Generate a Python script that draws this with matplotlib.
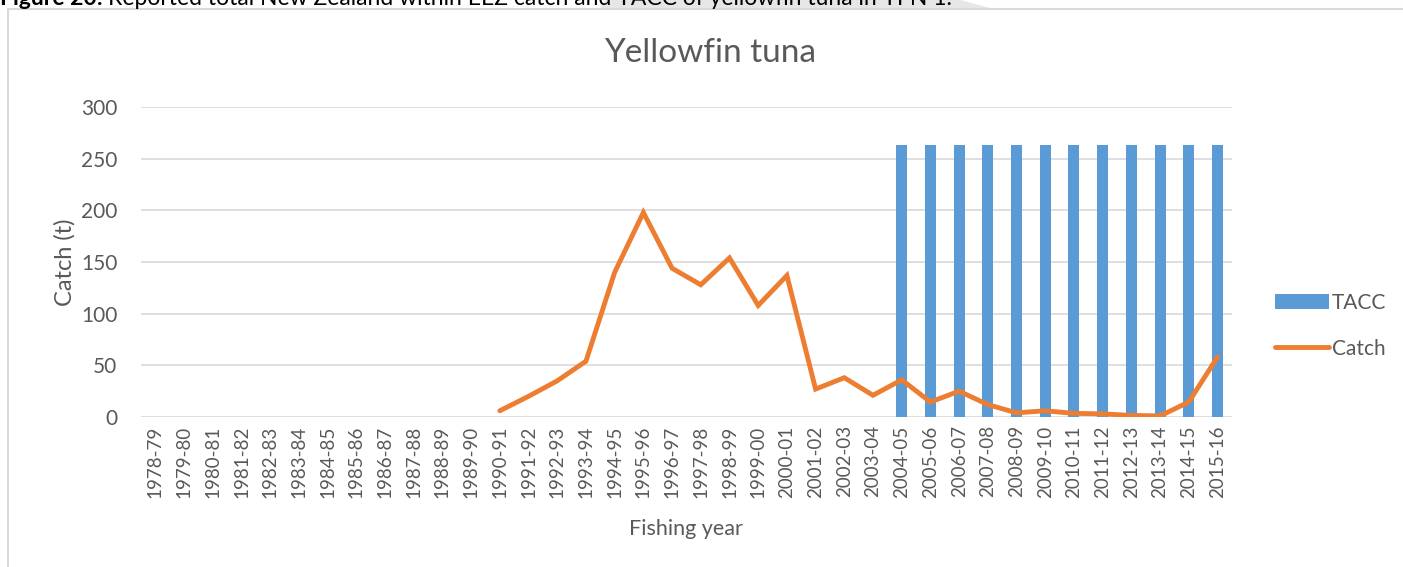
import matplotlib
matplotlib.use("Agg")
import matplotlib.pyplot as plt
from matplotlib.patches import Rectangle, Polygon
import numpy as np

plt.rcParams["font.family"] = ["Lato", "DejaVu Sans"]

# fishing years 1978-79 .. 2015-16
years = [f"{y}-{(y + 1) % 100:02d}" for y in range(1978, 2016)]

catch_years = [f"{y}-{(y + 1) % 100:02d}" for y in range(1990, 2016)]
catch = [6, 20, 35, 54, 140, 198, 144, 128, 154, 108, 137, 27, 38, 21, 36,
         14.5, 25, 12, 4, 6, 3.5, 3, 1.5, 1, 14.5, 58]

tacc_years = [f"{y}-{(y + 1) % 100:02d}" for y in range(2004, 2016)]
tacc = [263] * len(tacc_years)

TEXT = "#595959"
GRID = "#d9d9d9"
BLUE = "#5b9bd5"
ORANGE = "#ed7d31"
W, H = 1403, 567

fig = plt.figure(figsize=(W / 100, H / 100), dpi=100)
ax = fig.add_axes([0.1005, 0.2646, 0.7775, 0.5464])

x_all = np.arange(len(years))
idx = {y: i for i, y in enumerate(years)}
x_tacc = [idx[y] for y in tacc_years]
x_catch = [idx[y] for y in catch_years]

bars = ax.bar(x_tacc, tacc, width=0.38, color=BLUE, label="TACC", zorder=2)
line, = ax.plot(x_catch, catch, color=ORANGE, lw=3.5, solid_joinstyle="miter",
                solid_capstyle="round", label="Catch", zorder=3)

ax.set_xlim(-0.5, len(years) - 0.5)
ax.set_ylim(0, 300)
ax.set_yticks(range(0, 301, 50))
ax.set_xticks(x_all)
ax.set_xticklabels(years, rotation=90, fontsize=13.5, color=TEXT)
ax.tick_params(axis="y", labelsize=15, colors=TEXT, length=0, pad=17)
ax.tick_params(axis="x", length=0, pad=6)
ax.yaxis.grid(True, color=GRID, lw=1.2, zorder=0)
ax.set_axisbelow(True)
for s in ax.spines.values():
    s.set_visible(False)

ax.set_ylabel("Catch (t)", fontsize=17, color=TEXT, labelpad=4)
ax.set_xlabel("Fishing year", fontsize=15.5, color=TEXT, labelpad=15)
fig.text(0.506, 1 - 53 / H, "Yellowfin tuna", ha="center", va="center",
         fontsize=24, color=TEXT)

leg = ax.legend([bars, line], ["TACC", "Catch"], loc="center left",
                bbox_to_anchor=(1.022, 0.295), frameon=False,
                fontsize=15, handlelength=2.6, labelspacing=1.25,
                handletextpad=0.15)
for t in leg.get_texts():
    t.set_color(TEXT)

# outer chart border
fig.patches.append(Rectangle((8 / W, -0.05), 1.1, 1 - 9 / H + 0.05,
                             transform=fig.transFigure, fill=False,
                             edgecolor=GRID, lw=1.5))

# faint watermark stripe behind the caption
fig.patches.append(Polygon([(600 / W, 1 - 8 / H), (606 / W, 1.0),
                            (960 / W, 1.0), (990 / W, 1 - 8 / H)],
                           closed=True, transform=fig.transFigure,
                           facecolor="#e6e6e6", edgecolor="none", zorder=0))

# caption, cut off at the top like the source document
cap_y = 1 - 5 / H
head = fig.text(0.0, cap_y, "Figure 20:", ha="left", va="baseline",
                fontsize=16.5, fontweight="bold", color="black")
fig.canvas.draw()
head_end = head.get_window_extent().x1 / W
fig.text(head_end + 5 / W, cap_y,
         "Reported total New Zealand within EEZ catch and TACC of yellowfin tuna in YFN 1.",
         ha="left", va="baseline", fontsize=16.5, color="black")

fig.savefig("out.png", dpi=100, facecolor="white")
